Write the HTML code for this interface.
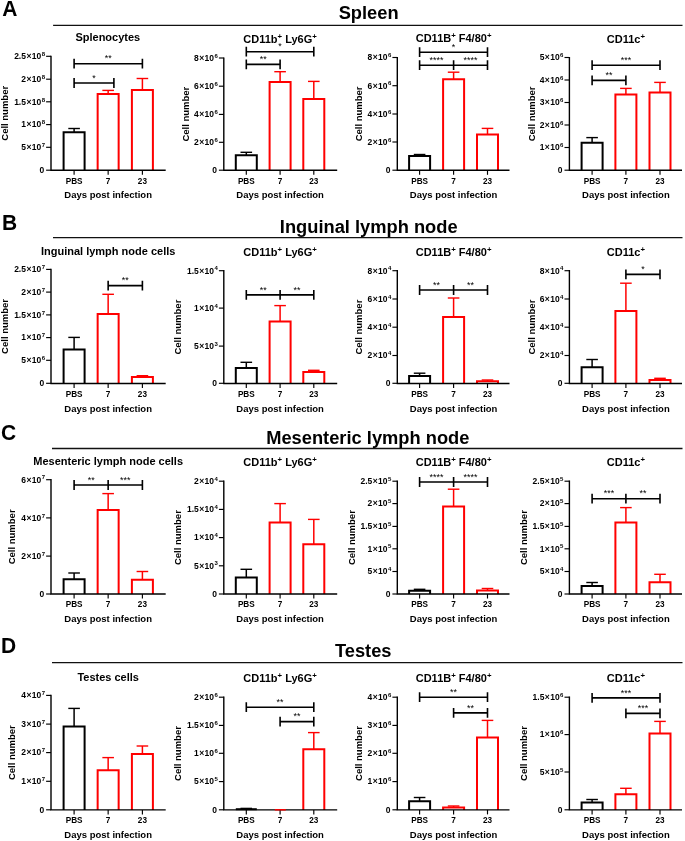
<!DOCTYPE html>
<html><head><meta charset="utf-8"><style>
html,body{margin:0;padding:0;background:#fff;}
svg{will-change:transform;filter:blur(0.35px);}
body{width:685px;height:841px;overflow:hidden;font-family:"Liberation Sans", sans-serif;}
svg{display:block;}
</style></head><body>
<svg width="685" height="841" viewBox="0 0 685 841" font-family='"Liberation Sans", sans-serif'>
<rect width="685" height="841" fill="#fff"/>
<text transform="translate(2.2 15.8) scale(1 1.04)" font-weight="bold" font-size="21">A</text>
<line x1="53.1" y1="25.45" x2="682.5" y2="25.45" stroke="#111" stroke-width="1.3"/>
<text transform="translate(368.6 19.3) scale(1 1.04)" text-anchor="middle" font-weight="bold" font-size="18.3">Spleen</text>
<text transform="translate(2 229.5) scale(1 1.04)" font-weight="bold" font-size="21">B</text>
<line x1="53" y1="237.7" x2="682.5" y2="237.7" stroke="#111" stroke-width="1.3"/>
<text transform="translate(368.7 233.1) scale(1 1.04)" text-anchor="middle" font-weight="bold" font-size="18.3">Inguinal lymph node</text>
<text transform="translate(0.9 440.2) scale(1 1.04)" font-weight="bold" font-size="21">C</text>
<line x1="52" y1="448.5" x2="682.5" y2="448.5" stroke="#111" stroke-width="1.3"/>
<text transform="translate(367.8 443.5) scale(1 1.04)" text-anchor="middle" font-weight="bold" font-size="18.3">Mesenteric lymph node</text>
<text transform="translate(0.9 653) scale(1 1.04)" font-weight="bold" font-size="21">D</text>
<line x1="52" y1="662.55" x2="682.5" y2="662.55" stroke="#111" stroke-width="1.3"/>
<text transform="translate(363.2 657) scale(1 1.04)" text-anchor="middle" font-weight="bold" font-size="18.3">Testes</text>
<g><line x1="74.1" y1="132.2" x2="74.1" y2="128.5" stroke="#000000" stroke-width="1.5"/><line x1="68.3" y1="128.5" x2="79.9" y2="128.5" stroke="#000000" stroke-width="1.4"/><path d="M63.6 170.3V132.2H84.6V170.3" fill="none" stroke="#000000" stroke-width="2"/><line x1="108.15" y1="94" x2="108.15" y2="90.4" stroke="#ff0000" stroke-width="1.5"/><line x1="102.35" y1="90.4" x2="113.95" y2="90.4" stroke="#ff0000" stroke-width="1.4"/><path d="M97.65 170.3V94H118.65V170.3" fill="none" stroke="#ff0000" stroke-width="2"/><line x1="142.4" y1="90" x2="142.4" y2="78.5" stroke="#ff0000" stroke-width="1.5"/><line x1="136.6" y1="78.5" x2="148.2" y2="78.5" stroke="#ff0000" stroke-width="1.4"/><path d="M131.9 170.3V90H152.9V170.3" fill="none" stroke="#ff0000" stroke-width="2"/><path d="M51 55.7V170.3H165.7" fill="none" stroke="#000" stroke-width="1.4"/><line x1="46.1" y1="56.3" x2="51" y2="56.3" stroke="#000" stroke-width="1.15"/><text transform="translate(45 59.1) scale(1 1.04)" text-anchor="end" font-weight="bold" font-size="8.5">2.5<tspan dx="0.45">×</tspan><tspan dx="0.45">10</tspan><tspan font-size="6" dx="0.4" dy="-3">8</tspan></text><line x1="46.1" y1="79.2" x2="51" y2="79.2" stroke="#000" stroke-width="1.15"/><text transform="translate(45 82.01) scale(1 1.04)" text-anchor="end" font-weight="bold" font-size="8.5">2<tspan dx="0.45">×</tspan><tspan dx="0.45">10</tspan><tspan font-size="6" dx="0.4" dy="-3">8</tspan></text><line x1="46.1" y1="101.8" x2="51" y2="101.8" stroke="#000" stroke-width="1.15"/><text transform="translate(45 104.61) scale(1 1.04)" text-anchor="end" font-weight="bold" font-size="8.5">1.5<tspan dx="0.45">×</tspan><tspan dx="0.45">10</tspan><tspan font-size="6" dx="0.4" dy="-3">8</tspan></text><line x1="46.1" y1="124.6" x2="51" y2="124.6" stroke="#000" stroke-width="1.15"/><text transform="translate(45 127.41) scale(1 1.04)" text-anchor="end" font-weight="bold" font-size="8.5">1<tspan dx="0.45">×</tspan><tspan dx="0.45">10</tspan><tspan font-size="6" dx="0.4" dy="-3">8</tspan></text><line x1="46.1" y1="147.3" x2="51" y2="147.3" stroke="#000" stroke-width="1.15"/><text transform="translate(45 150.11) scale(1 1.04)" text-anchor="end" font-weight="bold" font-size="8.5">5<tspan dx="0.45">×</tspan><tspan dx="0.45">10</tspan><tspan font-size="6" dx="0.4" dy="-3">7</tspan></text><line x1="46.1" y1="170.2" x2="51" y2="170.2" stroke="#000" stroke-width="1.15"/><text transform="translate(44.2 173) scale(1 1.04)" text-anchor="end" font-weight="bold" font-size="8.5">0</text><line x1="74.1" y1="170.3" x2="74.1" y2="174.8" stroke="#000" stroke-width="1.15"/><line x1="108.15" y1="170.3" x2="108.15" y2="174.8" stroke="#000" stroke-width="1.15"/><line x1="142.4" y1="170.3" x2="142.4" y2="174.8" stroke="#000" stroke-width="1.15"/><text transform="translate(74.1 183.7) scale(1 1.04)" text-anchor="middle" font-weight="bold" font-size="8.2">PBS</text><text transform="translate(108.15 183.7) scale(1 1.04)" text-anchor="middle" font-weight="bold" font-size="8.2">7</text><text transform="translate(142.4 183.7) scale(1 1.04)" text-anchor="middle" font-weight="bold" font-size="8.2">23</text><text transform="translate(108.15 198.3) scale(1 1.04)" text-anchor="middle" font-weight="bold" font-size="9.5">Days post infection</text><text transform="translate(8.3 113.3) rotate(-90) scale(1 1.04)" text-anchor="middle" font-weight="bold" font-size="9.5">Cell number</text><path d="M74.1 63.7H142.4M74.1 58.8V68.6M142.4 58.8V68.6" fill="none" stroke="#000" stroke-width="1.6"/><text transform="translate(108.25 61.3) scale(1 1.04)" text-anchor="middle" font-size="9">**</text><path d="M74.1 83H113.9M74.1 78.1V87.9M113.9 78.1V87.9" fill="none" stroke="#000" stroke-width="1.6"/><text transform="translate(94 80.6) scale(1 1.04)" text-anchor="middle" font-size="9">*</text><text transform="translate(107.8 40.6) scale(1 1.04)" text-anchor="middle" font-weight="bold" font-size="11">Splenocytes</text></g>
<g><line x1="246.3" y1="155.3" x2="246.3" y2="152.3" stroke="#000000" stroke-width="1.5"/><line x1="240.5" y1="152.3" x2="252.1" y2="152.3" stroke="#000000" stroke-width="1.4"/><path d="M235.8 170.3V155.3H256.8V170.3" fill="none" stroke="#000000" stroke-width="2"/><line x1="280.1" y1="82" x2="280.1" y2="71.7" stroke="#ff0000" stroke-width="1.5"/><line x1="274.3" y1="71.7" x2="285.9" y2="71.7" stroke="#ff0000" stroke-width="1.4"/><path d="M269.6 170.3V82H290.6V170.3" fill="none" stroke="#ff0000" stroke-width="2"/><line x1="313.8" y1="99" x2="313.8" y2="81.4" stroke="#ff0000" stroke-width="1.5"/><line x1="308" y1="81.4" x2="319.6" y2="81.4" stroke="#ff0000" stroke-width="1.4"/><path d="M303.3 170.3V99H324.3V170.3" fill="none" stroke="#ff0000" stroke-width="2"/><path d="M223.8 57.4V170.3H337.2" fill="none" stroke="#000" stroke-width="1.4"/><line x1="218.9" y1="58" x2="223.8" y2="58" stroke="#000" stroke-width="1.15"/><text transform="translate(217.8 60.8) scale(1 1.04)" text-anchor="end" font-weight="bold" font-size="8.5">8<tspan dx="0.45">×</tspan><tspan dx="0.45">10</tspan><tspan font-size="6" dx="0.4" dy="-3">6</tspan></text><line x1="218.9" y1="86.2" x2="223.8" y2="86.2" stroke="#000" stroke-width="1.15"/><text transform="translate(217.8 89.01) scale(1 1.04)" text-anchor="end" font-weight="bold" font-size="8.5">6<tspan dx="0.45">×</tspan><tspan dx="0.45">10</tspan><tspan font-size="6" dx="0.4" dy="-3">6</tspan></text><line x1="218.9" y1="114.4" x2="223.8" y2="114.4" stroke="#000" stroke-width="1.15"/><text transform="translate(217.8 117.21) scale(1 1.04)" text-anchor="end" font-weight="bold" font-size="8.5">4<tspan dx="0.45">×</tspan><tspan dx="0.45">10</tspan><tspan font-size="6" dx="0.4" dy="-3">6</tspan></text><line x1="218.9" y1="142.3" x2="223.8" y2="142.3" stroke="#000" stroke-width="1.15"/><text transform="translate(217.8 145.11) scale(1 1.04)" text-anchor="end" font-weight="bold" font-size="8.5">2<tspan dx="0.45">×</tspan><tspan dx="0.45">10</tspan><tspan font-size="6" dx="0.4" dy="-3">6</tspan></text><line x1="218.9" y1="170.2" x2="223.8" y2="170.2" stroke="#000" stroke-width="1.15"/><text transform="translate(217 173) scale(1 1.04)" text-anchor="end" font-weight="bold" font-size="8.5">0</text><line x1="246.3" y1="170.3" x2="246.3" y2="174.8" stroke="#000" stroke-width="1.15"/><line x1="280.1" y1="170.3" x2="280.1" y2="174.8" stroke="#000" stroke-width="1.15"/><line x1="313.8" y1="170.3" x2="313.8" y2="174.8" stroke="#000" stroke-width="1.15"/><text transform="translate(246.3 183.7) scale(1 1.04)" text-anchor="middle" font-weight="bold" font-size="8.2">PBS</text><text transform="translate(280.1 183.7) scale(1 1.04)" text-anchor="middle" font-weight="bold" font-size="8.2">7</text><text transform="translate(313.8 183.7) scale(1 1.04)" text-anchor="middle" font-weight="bold" font-size="8.2">23</text><text transform="translate(280.1 198.3) scale(1 1.04)" text-anchor="middle" font-weight="bold" font-size="9.5">Days post infection</text><text transform="translate(189 114.15) rotate(-90) scale(1 1.04)" text-anchor="middle" font-weight="bold" font-size="9.5">Cell number</text><path d="M246.3 51.7H313.8M246.3 46.8V56.6M313.8 46.8V56.6" fill="none" stroke="#000" stroke-width="1.6"/><text transform="translate(280.05 49.3) scale(1 1.04)" text-anchor="middle" font-size="9">*</text><path d="M246.3 64.4H280.1M246.3 59.5V69.3M280.1 59.5V69.3" fill="none" stroke="#000" stroke-width="1.6"/><text transform="translate(263.2 62) scale(1 1.04)" text-anchor="middle" font-size="9">**</text><text transform="translate(280.1 42.6) scale(1 1.04)" text-anchor="middle" font-weight="bold" font-size="11">CD11b<tspan font-size="7.8" dy="-3.8">+</tspan><tspan dy="3.8"> Ly6G</tspan><tspan font-size="7.8" dy="-3.8">+</tspan></text></g>
<g><line x1="419.6" y1="156" x2="419.6" y2="154.5" stroke="#000000" stroke-width="1.5"/><line x1="413.8" y1="154.5" x2="425.4" y2="154.5" stroke="#000000" stroke-width="1.4"/><path d="M409.1 170.3V156H430.1V170.3" fill="none" stroke="#000000" stroke-width="2"/><line x1="453.6" y1="79.2" x2="453.6" y2="72.2" stroke="#ff0000" stroke-width="1.5"/><line x1="447.8" y1="72.2" x2="459.4" y2="72.2" stroke="#ff0000" stroke-width="1.4"/><path d="M443.1 170.3V79.2H464.1V170.3" fill="none" stroke="#ff0000" stroke-width="2"/><line x1="487.5" y1="134.4" x2="487.5" y2="128.4" stroke="#ff0000" stroke-width="1.5"/><line x1="481.7" y1="128.4" x2="493.3" y2="128.4" stroke="#ff0000" stroke-width="1.4"/><path d="M477 170.3V134.4H498V170.3" fill="none" stroke="#ff0000" stroke-width="2"/><path d="M397.3 56.9V170.3H509.5" fill="none" stroke="#000" stroke-width="1.4"/><line x1="392.4" y1="57.5" x2="397.3" y2="57.5" stroke="#000" stroke-width="1.15"/><text transform="translate(391.3 60.3) scale(1 1.04)" text-anchor="end" font-weight="bold" font-size="8.5">8<tspan dx="0.45">×</tspan><tspan dx="0.45">10</tspan><tspan font-size="6" dx="0.4" dy="-3">6</tspan></text><line x1="392.4" y1="85.7" x2="397.3" y2="85.7" stroke="#000" stroke-width="1.15"/><text transform="translate(391.3 88.51) scale(1 1.04)" text-anchor="end" font-weight="bold" font-size="8.5">6<tspan dx="0.45">×</tspan><tspan dx="0.45">10</tspan><tspan font-size="6" dx="0.4" dy="-3">6</tspan></text><line x1="392.4" y1="114" x2="397.3" y2="114" stroke="#000" stroke-width="1.15"/><text transform="translate(391.3 116.81) scale(1 1.04)" text-anchor="end" font-weight="bold" font-size="8.5">4<tspan dx="0.45">×</tspan><tspan dx="0.45">10</tspan><tspan font-size="6" dx="0.4" dy="-3">6</tspan></text><line x1="392.4" y1="142" x2="397.3" y2="142" stroke="#000" stroke-width="1.15"/><text transform="translate(391.3 144.81) scale(1 1.04)" text-anchor="end" font-weight="bold" font-size="8.5">2<tspan dx="0.45">×</tspan><tspan dx="0.45">10</tspan><tspan font-size="6" dx="0.4" dy="-3">6</tspan></text><line x1="392.4" y1="170.2" x2="397.3" y2="170.2" stroke="#000" stroke-width="1.15"/><text transform="translate(390.5 173) scale(1 1.04)" text-anchor="end" font-weight="bold" font-size="8.5">0</text><line x1="419.6" y1="170.3" x2="419.6" y2="174.8" stroke="#000" stroke-width="1.15"/><line x1="453.6" y1="170.3" x2="453.6" y2="174.8" stroke="#000" stroke-width="1.15"/><line x1="487.5" y1="170.3" x2="487.5" y2="174.8" stroke="#000" stroke-width="1.15"/><text transform="translate(419.6 183.7) scale(1 1.04)" text-anchor="middle" font-weight="bold" font-size="8.2">PBS</text><text transform="translate(453.6 183.7) scale(1 1.04)" text-anchor="middle" font-weight="bold" font-size="8.2">7</text><text transform="translate(487.5 183.7) scale(1 1.04)" text-anchor="middle" font-weight="bold" font-size="8.2">23</text><text transform="translate(453.6 198.3) scale(1 1.04)" text-anchor="middle" font-weight="bold" font-size="9.5">Days post infection</text><text transform="translate(362 113.9) rotate(-90) scale(1 1.04)" text-anchor="middle" font-weight="bold" font-size="9.5">Cell number</text><path d="M419.6 52.2H487.5M419.6 47.3V57.1M487.5 47.3V57.1" fill="none" stroke="#000" stroke-width="1.6"/><text transform="translate(453.55 49.8) scale(1 1.04)" text-anchor="middle" font-size="9">*</text><path d="M419.6 65.2H487.5M419.6 60.3V70.1M487.5 60.3V70.1M453.6 60.3V70.1" fill="none" stroke="#000" stroke-width="1.6"/><text transform="translate(436.6 62.8) scale(1 1.04)" text-anchor="middle" font-size="9">****</text><text transform="translate(470.55 62.8) scale(1 1.04)" text-anchor="middle" font-size="9">****</text><text transform="translate(453.6 42.4) scale(1 1.04)" text-anchor="middle" font-weight="bold" font-size="11">CD11B<tspan font-size="7.8" dy="-3.8">+</tspan><tspan dy="3.8"> F4/80</tspan><tspan font-size="7.8" dy="-3.8">+</tspan></text></g>
<g><line x1="592.1" y1="142.8" x2="592.1" y2="137.6" stroke="#000000" stroke-width="1.5"/><line x1="586.3" y1="137.6" x2="597.9" y2="137.6" stroke="#000000" stroke-width="1.4"/><path d="M581.6 170.3V142.8H602.6V170.3" fill="none" stroke="#000000" stroke-width="2"/><line x1="625.9" y1="94.4" x2="625.9" y2="88.4" stroke="#ff0000" stroke-width="1.5"/><line x1="620.1" y1="88.4" x2="631.7" y2="88.4" stroke="#ff0000" stroke-width="1.4"/><path d="M615.4 170.3V94.4H636.4V170.3" fill="none" stroke="#ff0000" stroke-width="2"/><line x1="660" y1="92.4" x2="660" y2="82.4" stroke="#ff0000" stroke-width="1.5"/><line x1="654.2" y1="82.4" x2="665.8" y2="82.4" stroke="#ff0000" stroke-width="1.4"/><path d="M649.5 170.3V92.4H670.5V170.3" fill="none" stroke="#ff0000" stroke-width="2"/><path d="M569.4 56.9V170.3H682" fill="none" stroke="#000" stroke-width="1.4"/><line x1="564.5" y1="57.5" x2="569.4" y2="57.5" stroke="#000" stroke-width="1.15"/><text transform="translate(563.4 60.3) scale(1 1.04)" text-anchor="end" font-weight="bold" font-size="8.5">5<tspan dx="0.45">×</tspan><tspan dx="0.45">10</tspan><tspan font-size="6" dx="0.4" dy="-3">6</tspan></text><line x1="564.5" y1="80" x2="569.4" y2="80" stroke="#000" stroke-width="1.15"/><text transform="translate(563.4 82.81) scale(1 1.04)" text-anchor="end" font-weight="bold" font-size="8.5">4<tspan dx="0.45">×</tspan><tspan dx="0.45">10</tspan><tspan font-size="6" dx="0.4" dy="-3">6</tspan></text><line x1="564.5" y1="102.5" x2="569.4" y2="102.5" stroke="#000" stroke-width="1.15"/><text transform="translate(563.4 105.31) scale(1 1.04)" text-anchor="end" font-weight="bold" font-size="8.5">3<tspan dx="0.45">×</tspan><tspan dx="0.45">10</tspan><tspan font-size="6" dx="0.4" dy="-3">6</tspan></text><line x1="564.5" y1="125" x2="569.4" y2="125" stroke="#000" stroke-width="1.15"/><text transform="translate(563.4 127.81) scale(1 1.04)" text-anchor="end" font-weight="bold" font-size="8.5">2<tspan dx="0.45">×</tspan><tspan dx="0.45">10</tspan><tspan font-size="6" dx="0.4" dy="-3">6</tspan></text><line x1="564.5" y1="147.5" x2="569.4" y2="147.5" stroke="#000" stroke-width="1.15"/><text transform="translate(563.4 150.31) scale(1 1.04)" text-anchor="end" font-weight="bold" font-size="8.5">1<tspan dx="0.45">×</tspan><tspan dx="0.45">10</tspan><tspan font-size="6" dx="0.4" dy="-3">6</tspan></text><line x1="564.5" y1="170.2" x2="569.4" y2="170.2" stroke="#000" stroke-width="1.15"/><text transform="translate(562.6 173) scale(1 1.04)" text-anchor="end" font-weight="bold" font-size="8.5">0</text><line x1="592.1" y1="170.3" x2="592.1" y2="174.8" stroke="#000" stroke-width="1.15"/><line x1="625.9" y1="170.3" x2="625.9" y2="174.8" stroke="#000" stroke-width="1.15"/><line x1="660" y1="170.3" x2="660" y2="174.8" stroke="#000" stroke-width="1.15"/><text transform="translate(592.1 183.7) scale(1 1.04)" text-anchor="middle" font-weight="bold" font-size="8.2">PBS</text><text transform="translate(625.9 183.7) scale(1 1.04)" text-anchor="middle" font-weight="bold" font-size="8.2">7</text><text transform="translate(660 183.7) scale(1 1.04)" text-anchor="middle" font-weight="bold" font-size="8.2">23</text><text transform="translate(625.9 198.3) scale(1 1.04)" text-anchor="middle" font-weight="bold" font-size="9.5">Days post infection</text><text transform="translate(535 113.9) rotate(-90) scale(1 1.04)" text-anchor="middle" font-weight="bold" font-size="9.5">Cell number</text><path d="M592.1 65.2H660M592.1 60.3V70.1M660 60.3V70.1" fill="none" stroke="#000" stroke-width="1.6"/><text transform="translate(626.05 62.8) scale(1 1.04)" text-anchor="middle" font-size="9">***</text><path d="M592.1 80.4H625.9M592.1 75.5V85.3M625.9 75.5V85.3" fill="none" stroke="#000" stroke-width="1.6"/><text transform="translate(609 78) scale(1 1.04)" text-anchor="middle" font-size="9">**</text><text transform="translate(625.9 42.6) scale(1 1.04)" text-anchor="middle" font-weight="bold" font-size="11">CD11c<tspan font-size="7.8" dy="-3.8">+</tspan></text></g>
<g><line x1="74.1" y1="349.5" x2="74.1" y2="337.4" stroke="#000000" stroke-width="1.5"/><line x1="68.3" y1="337.4" x2="79.9" y2="337.4" stroke="#000000" stroke-width="1.4"/><path d="M63.6 383.5V349.5H84.6V383.5" fill="none" stroke="#000000" stroke-width="2"/><line x1="108.15" y1="314" x2="108.15" y2="294.3" stroke="#ff0000" stroke-width="1.5"/><line x1="102.35" y1="294.3" x2="113.95" y2="294.3" stroke="#ff0000" stroke-width="1.4"/><path d="M97.65 383.5V314H118.65V383.5" fill="none" stroke="#ff0000" stroke-width="2"/><line x1="142.4" y1="377" x2="142.4" y2="375.7" stroke="#ff0000" stroke-width="1.5"/><line x1="136.6" y1="375.7" x2="148.2" y2="375.7" stroke="#ff0000" stroke-width="1.4"/><path d="M131.9 383.5V377H152.9V383.5" fill="none" stroke="#ff0000" stroke-width="2"/><path d="M51 268.8V383.5H165.7" fill="none" stroke="#000" stroke-width="1.4"/><line x1="46.1" y1="269.4" x2="51" y2="269.4" stroke="#000" stroke-width="1.15"/><text transform="translate(45 272.2) scale(1 1.04)" text-anchor="end" font-weight="bold" font-size="8.5">2.5<tspan dx="0.45">×</tspan><tspan dx="0.45">10</tspan><tspan font-size="6" dx="0.4" dy="-3">7</tspan></text><line x1="46.1" y1="292.1" x2="51" y2="292.1" stroke="#000" stroke-width="1.15"/><text transform="translate(45 294.91) scale(1 1.04)" text-anchor="end" font-weight="bold" font-size="8.5">2<tspan dx="0.45">×</tspan><tspan dx="0.45">10</tspan><tspan font-size="6" dx="0.4" dy="-3">7</tspan></text><line x1="46.1" y1="314.9" x2="51" y2="314.9" stroke="#000" stroke-width="1.15"/><text transform="translate(45 317.7) scale(1 1.04)" text-anchor="end" font-weight="bold" font-size="8.5">1.5<tspan dx="0.45">×</tspan><tspan dx="0.45">10</tspan><tspan font-size="6" dx="0.4" dy="-3">7</tspan></text><line x1="46.1" y1="337.6" x2="51" y2="337.6" stroke="#000" stroke-width="1.15"/><text transform="translate(45 340.41) scale(1 1.04)" text-anchor="end" font-weight="bold" font-size="8.5">1<tspan dx="0.45">×</tspan><tspan dx="0.45">10</tspan><tspan font-size="6" dx="0.4" dy="-3">7</tspan></text><line x1="46.1" y1="360.3" x2="51" y2="360.3" stroke="#000" stroke-width="1.15"/><text transform="translate(45 363.11) scale(1 1.04)" text-anchor="end" font-weight="bold" font-size="8.5">5<tspan dx="0.45">×</tspan><tspan dx="0.45">10</tspan><tspan font-size="6" dx="0.4" dy="-3">6</tspan></text><line x1="46.1" y1="383.3" x2="51" y2="383.3" stroke="#000" stroke-width="1.15"/><text transform="translate(44.2 386.11) scale(1 1.04)" text-anchor="end" font-weight="bold" font-size="8.5">0</text><line x1="74.1" y1="383.5" x2="74.1" y2="388" stroke="#000" stroke-width="1.15"/><line x1="108.15" y1="383.5" x2="108.15" y2="388" stroke="#000" stroke-width="1.15"/><line x1="142.4" y1="383.5" x2="142.4" y2="388" stroke="#000" stroke-width="1.15"/><text transform="translate(74.1 396.9) scale(1 1.04)" text-anchor="middle" font-weight="bold" font-size="8.2">PBS</text><text transform="translate(108.15 396.9) scale(1 1.04)" text-anchor="middle" font-weight="bold" font-size="8.2">7</text><text transform="translate(142.4 396.9) scale(1 1.04)" text-anchor="middle" font-weight="bold" font-size="8.2">23</text><text transform="translate(108.15 411.5) scale(1 1.04)" text-anchor="middle" font-weight="bold" font-size="9.5">Days post infection</text><text transform="translate(8.1 326.45) rotate(-90) scale(1 1.04)" text-anchor="middle" font-weight="bold" font-size="9.5">Cell number</text><path d="M108.15 285.6H142.4M108.15 280.7V290.5M142.4 280.7V290.5" fill="none" stroke="#000" stroke-width="1.6"/><text transform="translate(125.28 283.2) scale(1 1.04)" text-anchor="middle" font-size="9">**</text><text transform="translate(108.15 254.5) scale(1 1.04)" text-anchor="middle" font-weight="bold" font-size="11">Inguinal lymph node cells</text></g>
<g><line x1="246.3" y1="368" x2="246.3" y2="362.3" stroke="#000000" stroke-width="1.5"/><line x1="240.5" y1="362.3" x2="252.1" y2="362.3" stroke="#000000" stroke-width="1.4"/><path d="M235.8 383.5V368H256.8V383.5" fill="none" stroke="#000000" stroke-width="2"/><line x1="280.1" y1="321.6" x2="280.1" y2="305.6" stroke="#ff0000" stroke-width="1.5"/><line x1="274.3" y1="305.6" x2="285.9" y2="305.6" stroke="#ff0000" stroke-width="1.4"/><path d="M269.6 383.5V321.6H290.6V383.5" fill="none" stroke="#ff0000" stroke-width="2"/><line x1="313.8" y1="372" x2="313.8" y2="370.3" stroke="#ff0000" stroke-width="1.5"/><line x1="308" y1="370.3" x2="319.6" y2="370.3" stroke="#ff0000" stroke-width="1.4"/><path d="M303.3 383.5V372H324.3V383.5" fill="none" stroke="#ff0000" stroke-width="2"/><path d="M223.8 270.1V383.5H337.2" fill="none" stroke="#000" stroke-width="1.4"/><line x1="218.9" y1="270.7" x2="223.8" y2="270.7" stroke="#000" stroke-width="1.15"/><text transform="translate(217.8 273.5) scale(1 1.04)" text-anchor="end" font-weight="bold" font-size="8.5">1.5<tspan dx="0.45">×</tspan><tspan dx="0.45">10</tspan><tspan font-size="6" dx="0.4" dy="-3">4</tspan></text><line x1="218.9" y1="308.1" x2="223.8" y2="308.1" stroke="#000" stroke-width="1.15"/><text transform="translate(217.8 310.91) scale(1 1.04)" text-anchor="end" font-weight="bold" font-size="8.5">1<tspan dx="0.45">×</tspan><tspan dx="0.45">10</tspan><tspan font-size="6" dx="0.4" dy="-3">4</tspan></text><line x1="218.9" y1="346.1" x2="223.8" y2="346.1" stroke="#000" stroke-width="1.15"/><text transform="translate(217.8 348.91) scale(1 1.04)" text-anchor="end" font-weight="bold" font-size="8.5">5<tspan dx="0.45">×</tspan><tspan dx="0.45">10</tspan><tspan font-size="6" dx="0.4" dy="-3">3</tspan></text><line x1="218.9" y1="383.3" x2="223.8" y2="383.3" stroke="#000" stroke-width="1.15"/><text transform="translate(217 386.11) scale(1 1.04)" text-anchor="end" font-weight="bold" font-size="8.5">0</text><line x1="246.3" y1="383.5" x2="246.3" y2="388" stroke="#000" stroke-width="1.15"/><line x1="280.1" y1="383.5" x2="280.1" y2="388" stroke="#000" stroke-width="1.15"/><line x1="313.8" y1="383.5" x2="313.8" y2="388" stroke="#000" stroke-width="1.15"/><text transform="translate(246.3 396.9) scale(1 1.04)" text-anchor="middle" font-weight="bold" font-size="8.2">PBS</text><text transform="translate(280.1 396.9) scale(1 1.04)" text-anchor="middle" font-weight="bold" font-size="8.2">7</text><text transform="translate(313.8 396.9) scale(1 1.04)" text-anchor="middle" font-weight="bold" font-size="8.2">23</text><text transform="translate(280.1 411.5) scale(1 1.04)" text-anchor="middle" font-weight="bold" font-size="9.5">Days post infection</text><text transform="translate(181.2 327.1) rotate(-90) scale(1 1.04)" text-anchor="middle" font-weight="bold" font-size="9.5">Cell number</text><path d="M246.3 294.9H313.8M246.3 290V299.8M313.8 290V299.8M280.1 290V299.8" fill="none" stroke="#000" stroke-width="1.6"/><text transform="translate(263.2 292.5) scale(1 1.04)" text-anchor="middle" font-size="9">**</text><text transform="translate(296.95 292.5) scale(1 1.04)" text-anchor="middle" font-size="9">**</text><text transform="translate(280.1 255.5) scale(1 1.04)" text-anchor="middle" font-weight="bold" font-size="11">CD11b<tspan font-size="7.8" dy="-3.8">+</tspan><tspan dy="3.8"> Ly6G</tspan><tspan font-size="7.8" dy="-3.8">+</tspan></text></g>
<g><line x1="419.6" y1="376" x2="419.6" y2="373.2" stroke="#000000" stroke-width="1.5"/><line x1="413.8" y1="373.2" x2="425.4" y2="373.2" stroke="#000000" stroke-width="1.4"/><path d="M409.1 383.5V376H430.1V383.5" fill="none" stroke="#000000" stroke-width="2"/><line x1="453.6" y1="317" x2="453.6" y2="298" stroke="#ff0000" stroke-width="1.5"/><line x1="447.8" y1="298" x2="459.4" y2="298" stroke="#ff0000" stroke-width="1.4"/><path d="M443.1 383.5V317H464.1V383.5" fill="none" stroke="#ff0000" stroke-width="2"/><line x1="487.5" y1="381.2" x2="487.5" y2="380" stroke="#ff0000" stroke-width="1.5"/><line x1="481.7" y1="380" x2="493.3" y2="380" stroke="#ff0000" stroke-width="1.4"/><path d="M477 383.5V381.2H498V383.5" fill="none" stroke="#ff0000" stroke-width="2"/><path d="M397.3 270.1V383.5H509.5" fill="none" stroke="#000" stroke-width="1.4"/><line x1="392.4" y1="270.7" x2="397.3" y2="270.7" stroke="#000" stroke-width="1.15"/><text transform="translate(391.3 273.5) scale(1 1.04)" text-anchor="end" font-weight="bold" font-size="8.5">8<tspan dx="0.45">×</tspan><tspan dx="0.45">10</tspan><tspan font-size="6" dx="0.4" dy="-3">4</tspan></text><line x1="392.4" y1="299" x2="397.3" y2="299" stroke="#000" stroke-width="1.15"/><text transform="translate(391.3 301.81) scale(1 1.04)" text-anchor="end" font-weight="bold" font-size="8.5">6<tspan dx="0.45">×</tspan><tspan dx="0.45">10</tspan><tspan font-size="6" dx="0.4" dy="-3">4</tspan></text><line x1="392.4" y1="327.2" x2="397.3" y2="327.2" stroke="#000" stroke-width="1.15"/><text transform="translate(391.3 330) scale(1 1.04)" text-anchor="end" font-weight="bold" font-size="8.5">4<tspan dx="0.45">×</tspan><tspan dx="0.45">10</tspan><tspan font-size="6" dx="0.4" dy="-3">4</tspan></text><line x1="392.4" y1="355.5" x2="397.3" y2="355.5" stroke="#000" stroke-width="1.15"/><text transform="translate(391.3 358.31) scale(1 1.04)" text-anchor="end" font-weight="bold" font-size="8.5">2<tspan dx="0.45">×</tspan><tspan dx="0.45">10</tspan><tspan font-size="6" dx="0.4" dy="-3">4</tspan></text><line x1="392.4" y1="383.3" x2="397.3" y2="383.3" stroke="#000" stroke-width="1.15"/><text transform="translate(390.5 386.11) scale(1 1.04)" text-anchor="end" font-weight="bold" font-size="8.5">0</text><line x1="419.6" y1="383.5" x2="419.6" y2="388" stroke="#000" stroke-width="1.15"/><line x1="453.6" y1="383.5" x2="453.6" y2="388" stroke="#000" stroke-width="1.15"/><line x1="487.5" y1="383.5" x2="487.5" y2="388" stroke="#000" stroke-width="1.15"/><text transform="translate(419.6 396.9) scale(1 1.04)" text-anchor="middle" font-weight="bold" font-size="8.2">PBS</text><text transform="translate(453.6 396.9) scale(1 1.04)" text-anchor="middle" font-weight="bold" font-size="8.2">7</text><text transform="translate(487.5 396.9) scale(1 1.04)" text-anchor="middle" font-weight="bold" font-size="8.2">23</text><text transform="translate(453.6 411.5) scale(1 1.04)" text-anchor="middle" font-weight="bold" font-size="9.5">Days post infection</text><text transform="translate(362 327.1) rotate(-90) scale(1 1.04)" text-anchor="middle" font-weight="bold" font-size="9.5">Cell number</text><path d="M419.6 290H487.5M419.6 285.1V294.9M487.5 285.1V294.9M453.6 285.1V294.9" fill="none" stroke="#000" stroke-width="1.6"/><text transform="translate(436.6 287.6) scale(1 1.04)" text-anchor="middle" font-size="9">**</text><text transform="translate(470.55 287.6) scale(1 1.04)" text-anchor="middle" font-size="9">**</text><text transform="translate(453.6 255.5) scale(1 1.04)" text-anchor="middle" font-weight="bold" font-size="11">CD11B<tspan font-size="7.8" dy="-3.8">+</tspan><tspan dy="3.8"> F4/80</tspan><tspan font-size="7.8" dy="-3.8">+</tspan></text></g>
<g><line x1="592.1" y1="367.3" x2="592.1" y2="359.5" stroke="#000000" stroke-width="1.5"/><line x1="586.3" y1="359.5" x2="597.9" y2="359.5" stroke="#000000" stroke-width="1.4"/><path d="M581.6 383.5V367.3H602.6V383.5" fill="none" stroke="#000000" stroke-width="2"/><line x1="625.9" y1="310.9" x2="625.9" y2="283.2" stroke="#ff0000" stroke-width="1.5"/><line x1="620.1" y1="283.2" x2="631.7" y2="283.2" stroke="#ff0000" stroke-width="1.4"/><path d="M615.4 383.5V310.9H636.4V383.5" fill="none" stroke="#ff0000" stroke-width="2"/><line x1="660" y1="380" x2="660" y2="378.3" stroke="#ff0000" stroke-width="1.5"/><line x1="654.2" y1="378.3" x2="665.8" y2="378.3" stroke="#ff0000" stroke-width="1.4"/><path d="M649.5 383.5V380H670.5V383.5" fill="none" stroke="#ff0000" stroke-width="2"/><path d="M569.4 270.1V383.5H682" fill="none" stroke="#000" stroke-width="1.4"/><line x1="564.5" y1="270.7" x2="569.4" y2="270.7" stroke="#000" stroke-width="1.15"/><text transform="translate(563.4 273.5) scale(1 1.04)" text-anchor="end" font-weight="bold" font-size="8.5">8<tspan dx="0.45">×</tspan><tspan dx="0.45">10</tspan><tspan font-size="6" dx="0.4" dy="-3">4</tspan></text><line x1="564.5" y1="299" x2="569.4" y2="299" stroke="#000" stroke-width="1.15"/><text transform="translate(563.4 301.81) scale(1 1.04)" text-anchor="end" font-weight="bold" font-size="8.5">6<tspan dx="0.45">×</tspan><tspan dx="0.45">10</tspan><tspan font-size="6" dx="0.4" dy="-3">4</tspan></text><line x1="564.5" y1="327.2" x2="569.4" y2="327.2" stroke="#000" stroke-width="1.15"/><text transform="translate(563.4 330) scale(1 1.04)" text-anchor="end" font-weight="bold" font-size="8.5">4<tspan dx="0.45">×</tspan><tspan dx="0.45">10</tspan><tspan font-size="6" dx="0.4" dy="-3">4</tspan></text><line x1="564.5" y1="355.5" x2="569.4" y2="355.5" stroke="#000" stroke-width="1.15"/><text transform="translate(563.4 358.31) scale(1 1.04)" text-anchor="end" font-weight="bold" font-size="8.5">2<tspan dx="0.45">×</tspan><tspan dx="0.45">10</tspan><tspan font-size="6" dx="0.4" dy="-3">4</tspan></text><line x1="564.5" y1="383.3" x2="569.4" y2="383.3" stroke="#000" stroke-width="1.15"/><text transform="translate(562.6 386.11) scale(1 1.04)" text-anchor="end" font-weight="bold" font-size="8.5">0</text><line x1="592.1" y1="383.5" x2="592.1" y2="388" stroke="#000" stroke-width="1.15"/><line x1="625.9" y1="383.5" x2="625.9" y2="388" stroke="#000" stroke-width="1.15"/><line x1="660" y1="383.5" x2="660" y2="388" stroke="#000" stroke-width="1.15"/><text transform="translate(592.1 396.9) scale(1 1.04)" text-anchor="middle" font-weight="bold" font-size="8.2">PBS</text><text transform="translate(625.9 396.9) scale(1 1.04)" text-anchor="middle" font-weight="bold" font-size="8.2">7</text><text transform="translate(660 396.9) scale(1 1.04)" text-anchor="middle" font-weight="bold" font-size="8.2">23</text><text transform="translate(625.9 411.5) scale(1 1.04)" text-anchor="middle" font-weight="bold" font-size="9.5">Days post infection</text><text transform="translate(535 327.1) rotate(-90) scale(1 1.04)" text-anchor="middle" font-weight="bold" font-size="9.5">Cell number</text><path d="M625.9 274.4H660M625.9 269.5V279.3M660 269.5V279.3" fill="none" stroke="#000" stroke-width="1.6"/><text transform="translate(642.95 272) scale(1 1.04)" text-anchor="middle" font-size="9">*</text><text transform="translate(625.9 255.5) scale(1 1.04)" text-anchor="middle" font-weight="bold" font-size="11">CD11c<tspan font-size="7.8" dy="-3.8">+</tspan></text></g>
<g><line x1="74.1" y1="579.3" x2="74.1" y2="573" stroke="#000000" stroke-width="1.5"/><line x1="68.3" y1="573" x2="79.9" y2="573" stroke="#000000" stroke-width="1.4"/><path d="M63.6 594V579.3H84.6V594" fill="none" stroke="#000000" stroke-width="2"/><line x1="108.15" y1="509.9" x2="108.15" y2="493.6" stroke="#ff0000" stroke-width="1.5"/><line x1="102.35" y1="493.6" x2="113.95" y2="493.6" stroke="#ff0000" stroke-width="1.4"/><path d="M97.65 594V509.9H118.65V594" fill="none" stroke="#ff0000" stroke-width="2"/><line x1="142.4" y1="579.8" x2="142.4" y2="571.5" stroke="#ff0000" stroke-width="1.5"/><line x1="136.6" y1="571.5" x2="148.2" y2="571.5" stroke="#ff0000" stroke-width="1.4"/><path d="M131.9 594V579.8H152.9V594" fill="none" stroke="#ff0000" stroke-width="2"/><path d="M51 479.1V594H165.7" fill="none" stroke="#000" stroke-width="1.4"/><line x1="46.1" y1="479.7" x2="51" y2="479.7" stroke="#000" stroke-width="1.15"/><text transform="translate(45 482.5) scale(1 1.04)" text-anchor="end" font-weight="bold" font-size="8.5">6<tspan dx="0.45">×</tspan><tspan dx="0.45">10</tspan><tspan font-size="6" dx="0.4" dy="-3">7</tspan></text><line x1="46.1" y1="517.9" x2="51" y2="517.9" stroke="#000" stroke-width="1.15"/><text transform="translate(45 520.7) scale(1 1.04)" text-anchor="end" font-weight="bold" font-size="8.5">4<tspan dx="0.45">×</tspan><tspan dx="0.45">10</tspan><tspan font-size="6" dx="0.4" dy="-3">7</tspan></text><line x1="46.1" y1="556.1" x2="51" y2="556.1" stroke="#000" stroke-width="1.15"/><text transform="translate(45 558.9) scale(1 1.04)" text-anchor="end" font-weight="bold" font-size="8.5">2<tspan dx="0.45">×</tspan><tspan dx="0.45">10</tspan><tspan font-size="6" dx="0.4" dy="-3">7</tspan></text><line x1="46.1" y1="594" x2="51" y2="594" stroke="#000" stroke-width="1.15"/><text transform="translate(44.2 596.8) scale(1 1.04)" text-anchor="end" font-weight="bold" font-size="8.5">0</text><line x1="74.1" y1="594" x2="74.1" y2="598.5" stroke="#000" stroke-width="1.15"/><line x1="108.15" y1="594" x2="108.15" y2="598.5" stroke="#000" stroke-width="1.15"/><line x1="142.4" y1="594" x2="142.4" y2="598.5" stroke="#000" stroke-width="1.15"/><text transform="translate(74.1 607.4) scale(1 1.04)" text-anchor="middle" font-weight="bold" font-size="8.2">PBS</text><text transform="translate(108.15 607.4) scale(1 1.04)" text-anchor="middle" font-weight="bold" font-size="8.2">7</text><text transform="translate(142.4 607.4) scale(1 1.04)" text-anchor="middle" font-weight="bold" font-size="8.2">23</text><text transform="translate(108.15 622) scale(1 1.04)" text-anchor="middle" font-weight="bold" font-size="9.5">Days post infection</text><text transform="translate(15.2 536.85) rotate(-90) scale(1 1.04)" text-anchor="middle" font-weight="bold" font-size="9.5">Cell number</text><path d="M74.1 485H142.4M74.1 480.1V489.9M142.4 480.1V489.9M108.15 480.1V489.9" fill="none" stroke="#000" stroke-width="1.6"/><text transform="translate(91.12 482.6) scale(1 1.04)" text-anchor="middle" font-size="9">**</text><text transform="translate(125.28 482.6) scale(1 1.04)" text-anchor="middle" font-size="9">***</text><text transform="translate(108.15 465) scale(1 1.04)" text-anchor="middle" font-weight="bold" font-size="11">Mesenteric lymph node cells</text></g>
<g><line x1="246.3" y1="577.5" x2="246.3" y2="569.3" stroke="#000000" stroke-width="1.5"/><line x1="240.5" y1="569.3" x2="252.1" y2="569.3" stroke="#000000" stroke-width="1.4"/><path d="M235.8 594V577.5H256.8V594" fill="none" stroke="#000000" stroke-width="2"/><line x1="280.1" y1="522.6" x2="280.1" y2="503.6" stroke="#ff0000" stroke-width="1.5"/><line x1="274.3" y1="503.6" x2="285.9" y2="503.6" stroke="#ff0000" stroke-width="1.4"/><path d="M269.6 594V522.6H290.6V594" fill="none" stroke="#ff0000" stroke-width="2"/><line x1="313.8" y1="544.3" x2="313.8" y2="519.4" stroke="#ff0000" stroke-width="1.5"/><line x1="308" y1="519.4" x2="319.6" y2="519.4" stroke="#ff0000" stroke-width="1.4"/><path d="M303.3 594V544.3H324.3V594" fill="none" stroke="#ff0000" stroke-width="2"/><path d="M223.8 480.6V594H337.2" fill="none" stroke="#000" stroke-width="1.4"/><line x1="218.9" y1="481.2" x2="223.8" y2="481.2" stroke="#000" stroke-width="1.15"/><text transform="translate(217.8 484) scale(1 1.04)" text-anchor="end" font-weight="bold" font-size="8.5">2<tspan dx="0.45">×</tspan><tspan dx="0.45">10</tspan><tspan font-size="6" dx="0.4" dy="-3">4</tspan></text><line x1="218.9" y1="509.4" x2="223.8" y2="509.4" stroke="#000" stroke-width="1.15"/><text transform="translate(217.8 512.2) scale(1 1.04)" text-anchor="end" font-weight="bold" font-size="8.5">1.5<tspan dx="0.45">×</tspan><tspan dx="0.45">10</tspan><tspan font-size="6" dx="0.4" dy="-3">4</tspan></text><line x1="218.9" y1="537.6" x2="223.8" y2="537.6" stroke="#000" stroke-width="1.15"/><text transform="translate(217.8 540.4) scale(1 1.04)" text-anchor="end" font-weight="bold" font-size="8.5">1<tspan dx="0.45">×</tspan><tspan dx="0.45">10</tspan><tspan font-size="6" dx="0.4" dy="-3">4</tspan></text><line x1="218.9" y1="565.8" x2="223.8" y2="565.8" stroke="#000" stroke-width="1.15"/><text transform="translate(217.8 568.6) scale(1 1.04)" text-anchor="end" font-weight="bold" font-size="8.5">5<tspan dx="0.45">×</tspan><tspan dx="0.45">10</tspan><tspan font-size="6" dx="0.4" dy="-3">3</tspan></text><line x1="218.9" y1="594" x2="223.8" y2="594" stroke="#000" stroke-width="1.15"/><text transform="translate(217 596.8) scale(1 1.04)" text-anchor="end" font-weight="bold" font-size="8.5">0</text><line x1="246.3" y1="594" x2="246.3" y2="598.5" stroke="#000" stroke-width="1.15"/><line x1="280.1" y1="594" x2="280.1" y2="598.5" stroke="#000" stroke-width="1.15"/><line x1="313.8" y1="594" x2="313.8" y2="598.5" stroke="#000" stroke-width="1.15"/><text transform="translate(246.3 607.4) scale(1 1.04)" text-anchor="middle" font-weight="bold" font-size="8.2">PBS</text><text transform="translate(280.1 607.4) scale(1 1.04)" text-anchor="middle" font-weight="bold" font-size="8.2">7</text><text transform="translate(313.8 607.4) scale(1 1.04)" text-anchor="middle" font-weight="bold" font-size="8.2">23</text><text transform="translate(280.1 622) scale(1 1.04)" text-anchor="middle" font-weight="bold" font-size="9.5">Days post infection</text><text transform="translate(181.2 537.6) rotate(-90) scale(1 1.04)" text-anchor="middle" font-weight="bold" font-size="9.5">Cell number</text><text transform="translate(280.1 466) scale(1 1.04)" text-anchor="middle" font-weight="bold" font-size="11">CD11b<tspan font-size="7.8" dy="-3.8">+</tspan><tspan dy="3.8"> Ly6G</tspan><tspan font-size="7.8" dy="-3.8">+</tspan></text></g>
<g><line x1="419.6" y1="590.8" x2="419.6" y2="589.3" stroke="#000000" stroke-width="1.5"/><line x1="413.8" y1="589.3" x2="425.4" y2="589.3" stroke="#000000" stroke-width="1.4"/><path d="M409.1 594V590.8H430.1V594" fill="none" stroke="#000000" stroke-width="2"/><line x1="453.6" y1="506.4" x2="453.6" y2="489.2" stroke="#ff0000" stroke-width="1.5"/><line x1="447.8" y1="489.2" x2="459.4" y2="489.2" stroke="#ff0000" stroke-width="1.4"/><path d="M443.1 594V506.4H464.1V594" fill="none" stroke="#ff0000" stroke-width="2"/><line x1="487.5" y1="590.5" x2="487.5" y2="588.5" stroke="#ff0000" stroke-width="1.5"/><line x1="481.7" y1="588.5" x2="493.3" y2="588.5" stroke="#ff0000" stroke-width="1.4"/><path d="M477 594V590.5H498V594" fill="none" stroke="#ff0000" stroke-width="2"/><path d="M397.3 480.6V594H509.5" fill="none" stroke="#000" stroke-width="1.4"/><line x1="392.4" y1="481.2" x2="397.3" y2="481.2" stroke="#000" stroke-width="1.15"/><text transform="translate(391.3 484) scale(1 1.04)" text-anchor="end" font-weight="bold" font-size="8.5">2.5<tspan dx="0.45">×</tspan><tspan dx="0.45">10</tspan><tspan font-size="6" dx="0.4" dy="-3">5</tspan></text><line x1="392.4" y1="503.6" x2="397.3" y2="503.6" stroke="#000" stroke-width="1.15"/><text transform="translate(391.3 506.41) scale(1 1.04)" text-anchor="end" font-weight="bold" font-size="8.5">2<tspan dx="0.45">×</tspan><tspan dx="0.45">10</tspan><tspan font-size="6" dx="0.4" dy="-3">5</tspan></text><line x1="392.4" y1="526.4" x2="397.3" y2="526.4" stroke="#000" stroke-width="1.15"/><text transform="translate(391.3 529.2) scale(1 1.04)" text-anchor="end" font-weight="bold" font-size="8.5">1.5<tspan dx="0.45">×</tspan><tspan dx="0.45">10</tspan><tspan font-size="6" dx="0.4" dy="-3">5</tspan></text><line x1="392.4" y1="548.8" x2="397.3" y2="548.8" stroke="#000" stroke-width="1.15"/><text transform="translate(391.3 551.6) scale(1 1.04)" text-anchor="end" font-weight="bold" font-size="8.5">1<tspan dx="0.45">×</tspan><tspan dx="0.45">10</tspan><tspan font-size="6" dx="0.4" dy="-3">5</tspan></text><line x1="392.4" y1="571.5" x2="397.3" y2="571.5" stroke="#000" stroke-width="1.15"/><text transform="translate(391.3 574.3) scale(1 1.04)" text-anchor="end" font-weight="bold" font-size="8.5">5<tspan dx="0.45">×</tspan><tspan dx="0.45">10</tspan><tspan font-size="6" dx="0.4" dy="-3">4</tspan></text><line x1="392.4" y1="594" x2="397.3" y2="594" stroke="#000" stroke-width="1.15"/><text transform="translate(390.5 596.8) scale(1 1.04)" text-anchor="end" font-weight="bold" font-size="8.5">0</text><line x1="419.6" y1="594" x2="419.6" y2="598.5" stroke="#000" stroke-width="1.15"/><line x1="453.6" y1="594" x2="453.6" y2="598.5" stroke="#000" stroke-width="1.15"/><line x1="487.5" y1="594" x2="487.5" y2="598.5" stroke="#000" stroke-width="1.15"/><text transform="translate(419.6 607.4) scale(1 1.04)" text-anchor="middle" font-weight="bold" font-size="8.2">PBS</text><text transform="translate(453.6 607.4) scale(1 1.04)" text-anchor="middle" font-weight="bold" font-size="8.2">7</text><text transform="translate(487.5 607.4) scale(1 1.04)" text-anchor="middle" font-weight="bold" font-size="8.2">23</text><text transform="translate(453.6 622) scale(1 1.04)" text-anchor="middle" font-weight="bold" font-size="9.5">Days post infection</text><text transform="translate(355 537.6) rotate(-90) scale(1 1.04)" text-anchor="middle" font-weight="bold" font-size="9.5">Cell number</text><path d="M419.6 482H487.5M419.6 477.1V486.9M487.5 477.1V486.9M453.6 477.1V486.9" fill="none" stroke="#000" stroke-width="1.6"/><text transform="translate(436.6 479.6) scale(1 1.04)" text-anchor="middle" font-size="9">****</text><text transform="translate(470.55 479.6) scale(1 1.04)" text-anchor="middle" font-size="9">****</text><text transform="translate(453.6 466) scale(1 1.04)" text-anchor="middle" font-weight="bold" font-size="11">CD11B<tspan font-size="7.8" dy="-3.8">+</tspan><tspan dy="3.8"> F4/80</tspan><tspan font-size="7.8" dy="-3.8">+</tspan></text></g>
<g><line x1="592.1" y1="586" x2="592.1" y2="582.5" stroke="#000000" stroke-width="1.5"/><line x1="586.3" y1="582.5" x2="597.9" y2="582.5" stroke="#000000" stroke-width="1.4"/><path d="M581.6 594V586H602.6V594" fill="none" stroke="#000000" stroke-width="2"/><line x1="625.9" y1="522.4" x2="625.9" y2="507.6" stroke="#ff0000" stroke-width="1.5"/><line x1="620.1" y1="507.6" x2="631.7" y2="507.6" stroke="#ff0000" stroke-width="1.4"/><path d="M615.4 594V522.4H636.4V594" fill="none" stroke="#ff0000" stroke-width="2"/><line x1="660" y1="582.3" x2="660" y2="574.3" stroke="#ff0000" stroke-width="1.5"/><line x1="654.2" y1="574.3" x2="665.8" y2="574.3" stroke="#ff0000" stroke-width="1.4"/><path d="M649.5 594V582.3H670.5V594" fill="none" stroke="#ff0000" stroke-width="2"/><path d="M569.4 480.6V594H682" fill="none" stroke="#000" stroke-width="1.4"/><line x1="564.5" y1="481.2" x2="569.4" y2="481.2" stroke="#000" stroke-width="1.15"/><text transform="translate(563.4 484) scale(1 1.04)" text-anchor="end" font-weight="bold" font-size="8.5">2.5<tspan dx="0.45">×</tspan><tspan dx="0.45">10</tspan><tspan font-size="6" dx="0.4" dy="-3">5</tspan></text><line x1="564.5" y1="503.6" x2="569.4" y2="503.6" stroke="#000" stroke-width="1.15"/><text transform="translate(563.4 506.41) scale(1 1.04)" text-anchor="end" font-weight="bold" font-size="8.5">2<tspan dx="0.45">×</tspan><tspan dx="0.45">10</tspan><tspan font-size="6" dx="0.4" dy="-3">5</tspan></text><line x1="564.5" y1="526.4" x2="569.4" y2="526.4" stroke="#000" stroke-width="1.15"/><text transform="translate(563.4 529.2) scale(1 1.04)" text-anchor="end" font-weight="bold" font-size="8.5">1.5<tspan dx="0.45">×</tspan><tspan dx="0.45">10</tspan><tspan font-size="6" dx="0.4" dy="-3">5</tspan></text><line x1="564.5" y1="548.8" x2="569.4" y2="548.8" stroke="#000" stroke-width="1.15"/><text transform="translate(563.4 551.6) scale(1 1.04)" text-anchor="end" font-weight="bold" font-size="8.5">1<tspan dx="0.45">×</tspan><tspan dx="0.45">10</tspan><tspan font-size="6" dx="0.4" dy="-3">5</tspan></text><line x1="564.5" y1="571.5" x2="569.4" y2="571.5" stroke="#000" stroke-width="1.15"/><text transform="translate(563.4 574.3) scale(1 1.04)" text-anchor="end" font-weight="bold" font-size="8.5">5<tspan dx="0.45">×</tspan><tspan dx="0.45">10</tspan><tspan font-size="6" dx="0.4" dy="-3">4</tspan></text><line x1="564.5" y1="594" x2="569.4" y2="594" stroke="#000" stroke-width="1.15"/><text transform="translate(562.6 596.8) scale(1 1.04)" text-anchor="end" font-weight="bold" font-size="8.5">0</text><line x1="592.1" y1="594" x2="592.1" y2="598.5" stroke="#000" stroke-width="1.15"/><line x1="625.9" y1="594" x2="625.9" y2="598.5" stroke="#000" stroke-width="1.15"/><line x1="660" y1="594" x2="660" y2="598.5" stroke="#000" stroke-width="1.15"/><text transform="translate(592.1 607.4) scale(1 1.04)" text-anchor="middle" font-weight="bold" font-size="8.2">PBS</text><text transform="translate(625.9 607.4) scale(1 1.04)" text-anchor="middle" font-weight="bold" font-size="8.2">7</text><text transform="translate(660 607.4) scale(1 1.04)" text-anchor="middle" font-weight="bold" font-size="8.2">23</text><text transform="translate(625.9 622) scale(1 1.04)" text-anchor="middle" font-weight="bold" font-size="9.5">Days post infection</text><text transform="translate(527 537.6) rotate(-90) scale(1 1.04)" text-anchor="middle" font-weight="bold" font-size="9.5">Cell number</text><path d="M592.1 498.7H660M592.1 493.8V503.6M660 493.8V503.6M625.9 493.8V503.6" fill="none" stroke="#000" stroke-width="1.6"/><text transform="translate(609 496.3) scale(1 1.04)" text-anchor="middle" font-size="9">***</text><text transform="translate(642.95 496.3) scale(1 1.04)" text-anchor="middle" font-size="9">**</text><text transform="translate(625.9 466) scale(1 1.04)" text-anchor="middle" font-weight="bold" font-size="11">CD11c<tspan font-size="7.8" dy="-3.8">+</tspan></text></g>
<g><line x1="74.1" y1="726.4" x2="74.1" y2="708.4" stroke="#000000" stroke-width="1.5"/><line x1="68.3" y1="708.4" x2="79.9" y2="708.4" stroke="#000000" stroke-width="1.4"/><path d="M63.6 809.9V726.4H84.6V809.9" fill="none" stroke="#000000" stroke-width="2"/><line x1="108.15" y1="770.3" x2="108.15" y2="757.6" stroke="#ff0000" stroke-width="1.5"/><line x1="102.35" y1="757.6" x2="113.95" y2="757.6" stroke="#ff0000" stroke-width="1.4"/><path d="M97.65 809.9V770.3H118.65V809.9" fill="none" stroke="#ff0000" stroke-width="2"/><line x1="142.4" y1="754" x2="142.4" y2="746" stroke="#ff0000" stroke-width="1.5"/><line x1="136.6" y1="746" x2="148.2" y2="746" stroke="#ff0000" stroke-width="1.4"/><path d="M131.9 809.9V754H152.9V809.9" fill="none" stroke="#ff0000" stroke-width="2"/><path d="M51 694.8V809.9H165.7" fill="none" stroke="#000" stroke-width="1.4"/><line x1="46.1" y1="695.4" x2="51" y2="695.4" stroke="#000" stroke-width="1.15"/><text transform="translate(45 698.2) scale(1 1.04)" text-anchor="end" font-weight="bold" font-size="8.5">4<tspan dx="0.45">×</tspan><tspan dx="0.45">10</tspan><tspan font-size="6" dx="0.4" dy="-3">7</tspan></text><line x1="46.1" y1="724.1" x2="51" y2="724.1" stroke="#000" stroke-width="1.15"/><text transform="translate(45 726.9) scale(1 1.04)" text-anchor="end" font-weight="bold" font-size="8.5">3<tspan dx="0.45">×</tspan><tspan dx="0.45">10</tspan><tspan font-size="6" dx="0.4" dy="-3">7</tspan></text><line x1="46.1" y1="752.6" x2="51" y2="752.6" stroke="#000" stroke-width="1.15"/><text transform="translate(45 755.4) scale(1 1.04)" text-anchor="end" font-weight="bold" font-size="8.5">2<tspan dx="0.45">×</tspan><tspan dx="0.45">10</tspan><tspan font-size="6" dx="0.4" dy="-3">7</tspan></text><line x1="46.1" y1="781.3" x2="51" y2="781.3" stroke="#000" stroke-width="1.15"/><text transform="translate(45 784.1) scale(1 1.04)" text-anchor="end" font-weight="bold" font-size="8.5">1<tspan dx="0.45">×</tspan><tspan dx="0.45">10</tspan><tspan font-size="6" dx="0.4" dy="-3">7</tspan></text><line x1="46.1" y1="809.8" x2="51" y2="809.8" stroke="#000" stroke-width="1.15"/><text transform="translate(44.2 812.6) scale(1 1.04)" text-anchor="end" font-weight="bold" font-size="8.5">0</text><line x1="74.1" y1="809.9" x2="74.1" y2="814.4" stroke="#000" stroke-width="1.15"/><line x1="108.15" y1="809.9" x2="108.15" y2="814.4" stroke="#000" stroke-width="1.15"/><line x1="142.4" y1="809.9" x2="142.4" y2="814.4" stroke="#000" stroke-width="1.15"/><text transform="translate(74.1 823.3) scale(1 1.04)" text-anchor="middle" font-weight="bold" font-size="8.2">PBS</text><text transform="translate(108.15 823.3) scale(1 1.04)" text-anchor="middle" font-weight="bold" font-size="8.2">7</text><text transform="translate(142.4 823.3) scale(1 1.04)" text-anchor="middle" font-weight="bold" font-size="8.2">23</text><text transform="translate(108.15 837.9) scale(1 1.04)" text-anchor="middle" font-weight="bold" font-size="9.5">Days post infection</text><text transform="translate(15.2 752.65) rotate(-90) scale(1 1.04)" text-anchor="middle" font-weight="bold" font-size="9.5">Cell number</text><text transform="translate(108.15 680.5) scale(1 1.04)" text-anchor="middle" font-weight="bold" font-size="11">Testes cells</text></g>
<g><line x1="246.3" y1="809.2" x2="246.3" y2="808.4" stroke="#000000" stroke-width="1.5"/><line x1="240.5" y1="808.4" x2="252.1" y2="808.4" stroke="#000000" stroke-width="1.4"/><line x1="235.8" y1="809.2" x2="256.8" y2="809.2" stroke="#000000" stroke-width="2"/><line x1="313.8" y1="749.3" x2="313.8" y2="732.6" stroke="#ff0000" stroke-width="1.5"/><line x1="308" y1="732.6" x2="319.6" y2="732.6" stroke="#ff0000" stroke-width="1.4"/><path d="M303.3 809.9V749.3H324.3V809.9" fill="none" stroke="#ff0000" stroke-width="2"/><path d="M223.8 696.6V809.9H337.2" fill="none" stroke="#000" stroke-width="1.4"/><line x1="218.9" y1="697.2" x2="223.8" y2="697.2" stroke="#000" stroke-width="1.15"/><text transform="translate(217.8 700) scale(1 1.04)" text-anchor="end" font-weight="bold" font-size="8.5">2<tspan dx="0.45">×</tspan><tspan dx="0.45">10</tspan><tspan font-size="6" dx="0.4" dy="-3">6</tspan></text><line x1="218.9" y1="725.4" x2="223.8" y2="725.4" stroke="#000" stroke-width="1.15"/><text transform="translate(217.8 728.2) scale(1 1.04)" text-anchor="end" font-weight="bold" font-size="8.5">1.5<tspan dx="0.45">×</tspan><tspan dx="0.45">10</tspan><tspan font-size="6" dx="0.4" dy="-3">6</tspan></text><line x1="218.9" y1="753.3" x2="223.8" y2="753.3" stroke="#000" stroke-width="1.15"/><text transform="translate(217.8 756.1) scale(1 1.04)" text-anchor="end" font-weight="bold" font-size="8.5">1<tspan dx="0.45">×</tspan><tspan dx="0.45">10</tspan><tspan font-size="6" dx="0.4" dy="-3">6</tspan></text><line x1="218.9" y1="781.6" x2="223.8" y2="781.6" stroke="#000" stroke-width="1.15"/><text transform="translate(217.8 784.4) scale(1 1.04)" text-anchor="end" font-weight="bold" font-size="8.5">5<tspan dx="0.45">×</tspan><tspan dx="0.45">10</tspan><tspan font-size="6" dx="0.4" dy="-3">5</tspan></text><line x1="218.9" y1="809.8" x2="223.8" y2="809.8" stroke="#000" stroke-width="1.15"/><text transform="translate(217 812.6) scale(1 1.04)" text-anchor="end" font-weight="bold" font-size="8.5">0</text><line x1="246.3" y1="809.9" x2="246.3" y2="814.4" stroke="#000" stroke-width="1.15"/><line x1="280.1" y1="809.9" x2="280.1" y2="814.4" stroke="#000" stroke-width="1.15"/><line x1="313.8" y1="809.9" x2="313.8" y2="814.4" stroke="#000" stroke-width="1.15"/><text transform="translate(246.3 823.3) scale(1 1.04)" text-anchor="middle" font-weight="bold" font-size="8.2">PBS</text><text transform="translate(280.1 823.3) scale(1 1.04)" text-anchor="middle" font-weight="bold" font-size="8.2">7</text><text transform="translate(313.8 823.3) scale(1 1.04)" text-anchor="middle" font-weight="bold" font-size="8.2">23</text><text transform="translate(280.1 837.9) scale(1 1.04)" text-anchor="middle" font-weight="bold" font-size="9.5">Days post infection</text><line x1="274.8" y1="809.8" x2="285.8" y2="809.8" stroke="#ff0000" stroke-width="1.5"/><text transform="translate(181.2 753.55) rotate(-90) scale(1 1.04)" text-anchor="middle" font-weight="bold" font-size="9.5">Cell number</text><path d="M246.3 707.2H313.8M246.3 702.3V712.1M313.8 702.3V712.1" fill="none" stroke="#000" stroke-width="1.6"/><text transform="translate(280.05 704.8) scale(1 1.04)" text-anchor="middle" font-size="9">**</text><path d="M280.1 721.6H313.8M280.1 716.7V726.5M313.8 716.7V726.5" fill="none" stroke="#000" stroke-width="1.6"/><text transform="translate(296.95 719.2) scale(1 1.04)" text-anchor="middle" font-size="9">**</text><text transform="translate(280.1 681.5) scale(1 1.04)" text-anchor="middle" font-weight="bold" font-size="11">CD11b<tspan font-size="7.8" dy="-3.8">+</tspan><tspan dy="3.8"> Ly6G</tspan><tspan font-size="7.8" dy="-3.8">+</tspan></text></g>
<g><line x1="419.6" y1="801.3" x2="419.6" y2="797.5" stroke="#000000" stroke-width="1.5"/><line x1="413.8" y1="797.5" x2="425.4" y2="797.5" stroke="#000000" stroke-width="1.4"/><path d="M409.1 809.9V801.3H430.1V809.9" fill="none" stroke="#000000" stroke-width="2"/><line x1="453.6" y1="807.5" x2="453.6" y2="806" stroke="#ff0000" stroke-width="1.5"/><line x1="447.8" y1="806" x2="459.4" y2="806" stroke="#ff0000" stroke-width="1.4"/><path d="M443.1 809.9V807.5H464.1V809.9" fill="none" stroke="#ff0000" stroke-width="2"/><line x1="487.5" y1="737.4" x2="487.5" y2="720.4" stroke="#ff0000" stroke-width="1.5"/><line x1="481.7" y1="720.4" x2="493.3" y2="720.4" stroke="#ff0000" stroke-width="1.4"/><path d="M477 809.9V737.4H498V809.9" fill="none" stroke="#ff0000" stroke-width="2"/><path d="M397.3 696.6V809.9H509.5" fill="none" stroke="#000" stroke-width="1.4"/><line x1="392.4" y1="697.2" x2="397.3" y2="697.2" stroke="#000" stroke-width="1.15"/><text transform="translate(391.3 700) scale(1 1.04)" text-anchor="end" font-weight="bold" font-size="8.5">4<tspan dx="0.45">×</tspan><tspan dx="0.45">10</tspan><tspan font-size="6" dx="0.4" dy="-3">6</tspan></text><line x1="392.4" y1="725.4" x2="397.3" y2="725.4" stroke="#000" stroke-width="1.15"/><text transform="translate(391.3 728.2) scale(1 1.04)" text-anchor="end" font-weight="bold" font-size="8.5">3<tspan dx="0.45">×</tspan><tspan dx="0.45">10</tspan><tspan font-size="6" dx="0.4" dy="-3">6</tspan></text><line x1="392.4" y1="753.3" x2="397.3" y2="753.3" stroke="#000" stroke-width="1.15"/><text transform="translate(391.3 756.1) scale(1 1.04)" text-anchor="end" font-weight="bold" font-size="8.5">2<tspan dx="0.45">×</tspan><tspan dx="0.45">10</tspan><tspan font-size="6" dx="0.4" dy="-3">6</tspan></text><line x1="392.4" y1="781.6" x2="397.3" y2="781.6" stroke="#000" stroke-width="1.15"/><text transform="translate(391.3 784.4) scale(1 1.04)" text-anchor="end" font-weight="bold" font-size="8.5">1<tspan dx="0.45">×</tspan><tspan dx="0.45">10</tspan><tspan font-size="6" dx="0.4" dy="-3">6</tspan></text><line x1="392.4" y1="809.8" x2="397.3" y2="809.8" stroke="#000" stroke-width="1.15"/><text transform="translate(390.5 812.6) scale(1 1.04)" text-anchor="end" font-weight="bold" font-size="8.5">0</text><line x1="419.6" y1="809.9" x2="419.6" y2="814.4" stroke="#000" stroke-width="1.15"/><line x1="453.6" y1="809.9" x2="453.6" y2="814.4" stroke="#000" stroke-width="1.15"/><line x1="487.5" y1="809.9" x2="487.5" y2="814.4" stroke="#000" stroke-width="1.15"/><text transform="translate(419.6 823.3) scale(1 1.04)" text-anchor="middle" font-weight="bold" font-size="8.2">PBS</text><text transform="translate(453.6 823.3) scale(1 1.04)" text-anchor="middle" font-weight="bold" font-size="8.2">7</text><text transform="translate(487.5 823.3) scale(1 1.04)" text-anchor="middle" font-weight="bold" font-size="8.2">23</text><text transform="translate(453.6 837.9) scale(1 1.04)" text-anchor="middle" font-weight="bold" font-size="9.5">Days post infection</text><text transform="translate(362 753.55) rotate(-90) scale(1 1.04)" text-anchor="middle" font-weight="bold" font-size="9.5">Cell number</text><path d="M419.6 697.2H487.5M419.6 692.3V702.1M487.5 692.3V702.1" fill="none" stroke="#000" stroke-width="1.6"/><text transform="translate(453.55 694.8) scale(1 1.04)" text-anchor="middle" font-size="9">**</text><path d="M453.6 712.9H487.5M453.6 708V717.8M487.5 708V717.8" fill="none" stroke="#000" stroke-width="1.6"/><text transform="translate(470.55 710.5) scale(1 1.04)" text-anchor="middle" font-size="9">**</text><text transform="translate(453.6 681.5) scale(1 1.04)" text-anchor="middle" font-weight="bold" font-size="11">CD11B<tspan font-size="7.8" dy="-3.8">+</tspan><tspan dy="3.8"> F4/80</tspan><tspan font-size="7.8" dy="-3.8">+</tspan></text></g>
<g><line x1="592.1" y1="802.5" x2="592.1" y2="799.5" stroke="#000000" stroke-width="1.5"/><line x1="586.3" y1="799.5" x2="597.9" y2="799.5" stroke="#000000" stroke-width="1.4"/><path d="M581.6 809.9V802.5H602.6V809.9" fill="none" stroke="#000000" stroke-width="2"/><line x1="625.9" y1="794.3" x2="625.9" y2="788.3" stroke="#ff0000" stroke-width="1.5"/><line x1="620.1" y1="788.3" x2="631.7" y2="788.3" stroke="#ff0000" stroke-width="1.4"/><path d="M615.4 809.9V794.3H636.4V809.9" fill="none" stroke="#ff0000" stroke-width="2"/><line x1="660" y1="733.4" x2="660" y2="721.4" stroke="#ff0000" stroke-width="1.5"/><line x1="654.2" y1="721.4" x2="665.8" y2="721.4" stroke="#ff0000" stroke-width="1.4"/><path d="M649.5 809.9V733.4H670.5V809.9" fill="none" stroke="#ff0000" stroke-width="2"/><path d="M569.4 696.6V809.9H682" fill="none" stroke="#000" stroke-width="1.4"/><line x1="564.5" y1="697.2" x2="569.4" y2="697.2" stroke="#000" stroke-width="1.15"/><text transform="translate(563.4 700) scale(1 1.04)" text-anchor="end" font-weight="bold" font-size="8.5">1.5<tspan dx="0.45">×</tspan><tspan dx="0.45">10</tspan><tspan font-size="6" dx="0.4" dy="-3">6</tspan></text><line x1="564.5" y1="734.6" x2="569.4" y2="734.6" stroke="#000" stroke-width="1.15"/><text transform="translate(563.4 737.4) scale(1 1.04)" text-anchor="end" font-weight="bold" font-size="8.5">1<tspan dx="0.45">×</tspan><tspan dx="0.45">10</tspan><tspan font-size="6" dx="0.4" dy="-3">6</tspan></text><line x1="564.5" y1="772" x2="569.4" y2="772" stroke="#000" stroke-width="1.15"/><text transform="translate(563.4 774.8) scale(1 1.04)" text-anchor="end" font-weight="bold" font-size="8.5">5<tspan dx="0.45">×</tspan><tspan dx="0.45">10</tspan><tspan font-size="6" dx="0.4" dy="-3">5</tspan></text><line x1="564.5" y1="809.8" x2="569.4" y2="809.8" stroke="#000" stroke-width="1.15"/><text transform="translate(562.6 812.6) scale(1 1.04)" text-anchor="end" font-weight="bold" font-size="8.5">0</text><line x1="592.1" y1="809.9" x2="592.1" y2="814.4" stroke="#000" stroke-width="1.15"/><line x1="625.9" y1="809.9" x2="625.9" y2="814.4" stroke="#000" stroke-width="1.15"/><line x1="660" y1="809.9" x2="660" y2="814.4" stroke="#000" stroke-width="1.15"/><text transform="translate(592.1 823.3) scale(1 1.04)" text-anchor="middle" font-weight="bold" font-size="8.2">PBS</text><text transform="translate(625.9 823.3) scale(1 1.04)" text-anchor="middle" font-weight="bold" font-size="8.2">7</text><text transform="translate(660 823.3) scale(1 1.04)" text-anchor="middle" font-weight="bold" font-size="8.2">23</text><text transform="translate(625.9 837.9) scale(1 1.04)" text-anchor="middle" font-weight="bold" font-size="9.5">Days post infection</text><text transform="translate(527 753.55) rotate(-90) scale(1 1.04)" text-anchor="middle" font-weight="bold" font-size="9.5">Cell number</text><path d="M592.1 697.9H660M592.1 693V702.8M660 693V702.8" fill="none" stroke="#000" stroke-width="1.6"/><text transform="translate(626.05 695.5) scale(1 1.04)" text-anchor="middle" font-size="9">***</text><path d="M625.9 713.4H660M625.9 708.5V718.3M660 708.5V718.3" fill="none" stroke="#000" stroke-width="1.6"/><text transform="translate(642.95 711) scale(1 1.04)" text-anchor="middle" font-size="9">***</text><text transform="translate(625.9 681.5) scale(1 1.04)" text-anchor="middle" font-weight="bold" font-size="11">CD11c<tspan font-size="7.8" dy="-3.8">+</tspan></text></g>
</svg>
</body></html>
